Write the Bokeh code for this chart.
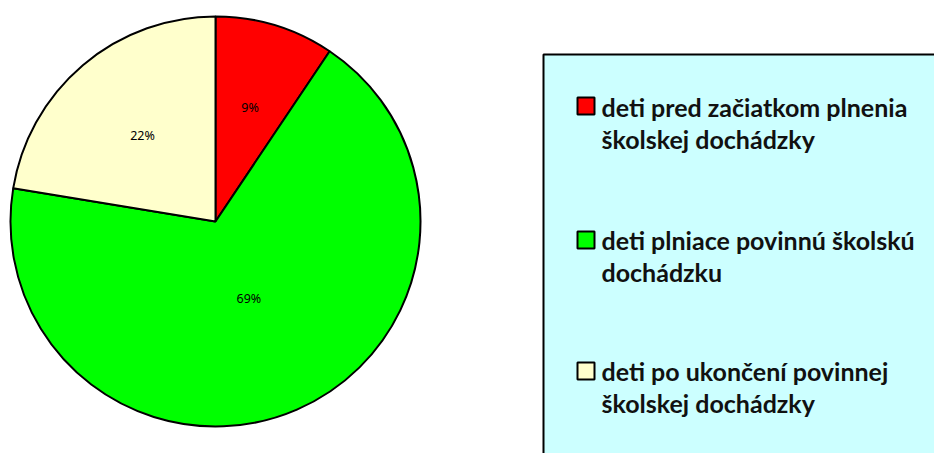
import math
from bokeh.plotting import figure
from bokeh.models import Range1d, ColumnDataSource
from bokeh.core.properties import value
from bokeh.embed import file_html
from bokeh.resources import INLINE

# ---- data ----
categories = [
    "deti pred začiatkom plnenia\nškolskej dochádzky",
    "deti plniace povinnú školskú\ndochádzku",
    "deti po ukončení povinnej\nškolskej dochádzky",
]
shares = [9.4, 68.2, 22.4]
pct_labels = ["9%", "69%", "22%"]
colors = ["#FF0000", "#00FF00", "#FFFFCC"]

# ---- styles / layout (pixels) ----
W, H = 934, 453
CX, CY, R = 215, H - 221, 205
label_r = [0.58, 0.41, 0.55]
LEG_X0, LEG_TOP = 543, 54
SQ_X, SQ = 585.5, 17
TXT_X = 601
entry_base = [106, 239, 370]
LINE_GAP = 32.5
sq_base = [114, 248, 379]

p = figure(width=W, height=H, output_backend="svg", toolbar_location=None,
           x_range=Range1d(0, W), y_range=Range1d(0, H), min_border=0)
p.axis.visible = False
p.grid.visible = False
p.outline_line_color = None
p.background_fill_color = "white"
p.border_fill_color = "white"

total = sum(shares)
starts, ends, lx, ly = [], [], [], []
acc = 0.0
for i, s in enumerate(shares):
    a0 = math.pi / 2 - 2 * math.pi * acc / total
    acc += s
    a1 = math.pi / 2 - 2 * math.pi * acc / total
    starts.append(a0)
    ends.append(a1)
    mid = (a0 + a1) / 2
    lx.append(CX + R * label_r[i] * math.cos(mid))
    ly.append(CY + R * label_r[i] * math.sin(mid))

src = ColumnDataSource(dict(start=starts, end=ends, color=colors))
p.wedge(x=CX, y=CY, radius=R, start_angle="start", end_angle="end",
        direction="clock", fill_color="color", line_color="black",
        line_width=2, source=src)

p.text(x=lx, y=ly, text=pct_labels, text_align="center",
       text_baseline="middle", text_font=value("Noto Sans"),
       text_font_size="12.5px", text_color="black")

# legend box
p.quad(left=LEG_X0, right=W + 10, top=H - LEG_TOP, bottom=-10,
       fill_color="#CCFFFF", line_color="black", line_width=2)

sq_y = [H - (b - 8.5) for b in sq_base]
p.rect(x=[SQ_X] * len(colors), y=sq_y, width=SQ, height=SQ,
       fill_color=colors, line_color="black", line_width=2)

tx, ty, tt = [], [], []
for i, cat in enumerate(categories):
    for j, line in enumerate(cat.split("\n")):
        tx.append(TXT_X)
        ty.append(H - (entry_base[i] + j * LINE_GAP))
        tt.append(line)
p.text(x=tx, y=ty, text=tt, text_align="left", text_baseline="alphabetic",
       text_font=value("Lato"), text_font_style="bold",
       text_font_size="25px", text_color="#111111")

open("out.html", "w").write(file_html(p, INLINE))
